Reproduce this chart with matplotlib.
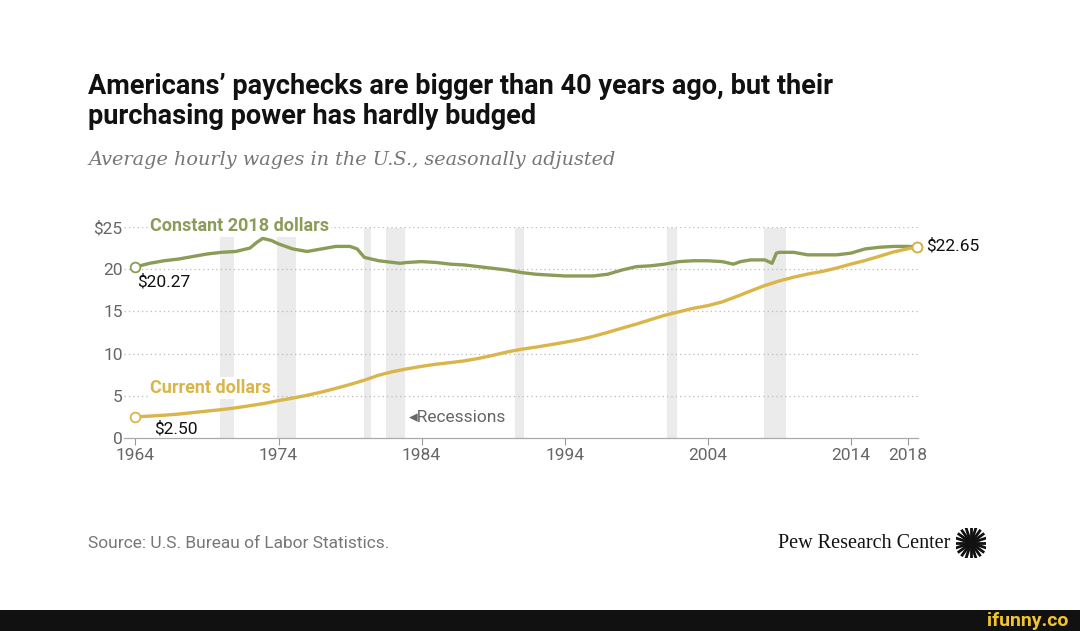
import numpy as np
import matplotlib.pyplot as plt
from matplotlib.patches import Rectangle

# 데이터
years_cur = [1964, 1965, 1966, 1967, 1968, 1969, 1970, 1971, 1972, 1973, 1974, 1975,
             1976, 1977, 1978, 1979, 1980, 1981, 1982, 1983, 1984, 1985, 1986, 1987,
             1988, 1989, 1990, 1991, 1992, 1993, 1994, 1995, 1996, 1997, 1998, 1999,
             2000, 2001, 2002, 2003, 2004, 2005, 2006, 2007, 2008, 2009, 2010, 2011,
             2012, 2013, 2014, 2015, 2016, 2017, 2018.6]
wage_cur = [2.50, 2.60, 2.70, 2.83, 3.01, 3.19, 3.36, 3.57, 3.83, 4.09, 4.43, 4.73,
            5.06, 5.44, 5.88, 6.34, 6.85, 7.44, 7.87, 8.20, 8.49, 8.74, 8.93, 9.14,
            9.44, 9.80, 10.20, 10.52, 10.77, 11.05, 11.34, 11.65, 12.04, 12.51, 13.01, 13.49,
            14.02, 14.54, 14.96, 15.37, 15.68, 16.12, 16.75, 17.42, 18.07, 18.61, 19.05, 19.43,
            19.73, 20.13, 20.60, 21.03, 21.53, 22.05, 22.65]

years_const = [1964, 1965, 1966, 1967, 1968, 1969, 1970, 1971, 1972, 1972.5, 1972.9, 1973.5,
               1974, 1975, 1976, 1977, 1978, 1979, 1979.5, 1980, 1981, 1982, 1982.5, 1983,
               1984, 1985, 1986, 1987, 1988, 1989, 1990, 1991, 1992, 1993, 1994, 1995,
               1996, 1997, 1998, 1999, 2000, 2001, 2002, 2003, 2004, 2005, 2005.8, 2006.3,
               2007, 2008, 2008.5, 2008.8, 2009, 2010, 2011, 2012, 2013, 2014, 2015, 2016,
               2017, 2018, 2018.6]
wage_const = [20.27, 20.7, 21.0, 21.2, 21.5, 21.8, 22.0, 22.1, 22.5, 23.2, 23.65, 23.4,
              23.0, 22.4, 22.1, 22.4, 22.7, 22.7, 22.4, 21.4, 21.0, 20.8, 20.7, 20.8,
              20.9, 20.8, 20.6, 20.5, 20.3, 20.1, 19.9, 19.6, 19.4, 19.3, 19.2, 19.2,
              19.2, 19.4, 19.9, 20.3, 20.4, 20.6, 20.9, 21.0, 21.0, 20.9, 20.6, 20.9,
              21.1, 21.1, 20.7, 21.9, 22.0, 22.0, 21.7, 21.7, 21.7, 21.9, 22.4, 22.6,
              22.7, 22.7, 22.65]

recessions = [(1969.92, 1970.87), (1973.9, 1975.2), (1980.0, 1980.5), (1981.5, 1982.85),
              (1990.5, 1991.17), (2001.17, 2001.85), (2007.92, 2009.45)]

xticks = [1964, 1974, 1984, 1994, 2004, 2014, 2018]
yticks = [0, 5, 10, 15, 20, 25]
ytick_labels = ['0', '5', '10', '15', '20', '$25']

green = '#8b9c58'
gold = '#d9b54a'
gray = '#666666'
sans = ['Roboto', 'DejaVu Sans']

fig = plt.figure(figsize=(10.8, 6.31), dpi=100)
ax = fig.add_axes([124 / 1080, 1 - 438 / 631, (918 - 124) / 1080, (438 - 227) / 631])

# 경기침체 구간
for a, b in recessions:
    ax.axvspan(a, b, ymin=0, ymax=0.995, color='#ebebeb', lw=0, zorder=0)

# 격자선
for y in yticks[1:]:
    ax.axhline(y, color='#bbbbbb', lw=0.9, ls=(0, (1, 2.5)), zorder=1)

ax.plot(years_const, wage_const, color=green, lw=2.4, zorder=3, solid_capstyle='round')
ax.plot(years_cur, wage_cur, color=gold, lw=2.4, zorder=3, solid_capstyle='round')

# 끝점 표시
for xs, ys, c in [(years_const, wage_const, green), (years_cur, wage_cur, gold)]:
    ax.plot([xs[0], xs[-1]], [ys[0], ys[-1]], 'o', ms=7, mfc='white', mec=c, mew=1.3,
            zorder=4, clip_on=False)

ax.set_xlim(1963.2, 2018.7)
ax.set_ylim(0, 25)
ax.set_xticks(xticks)
ax.set_xticklabels([str(t) for t in xticks], family=sans)
ax.set_yticks(yticks)
ax.set_yticklabels(ytick_labels, family=sans)
ax.tick_params(axis='y', length=0, pad=1, labelsize=12.5, labelcolor=gray)
ax.tick_params(axis='x', length=5, width=0.8, color='#999999', pad=2, labelsize=12.5,
               labelcolor=gray)
for s in ['top', 'right', 'left']:
    ax.spines[s].set_visible(False)
ax.spines['bottom'].set_color('#aaaaaa')
ax.spines['bottom'].set_linewidth(0.9)

# 라벨
ax.text(1965.0, 25.1, 'Constant 2018 dollars', color=green, fontsize=13, fontweight='bold',
        family=sans, va='center', ha='left', zorder=5,
        bbox=dict(facecolor='white', edgecolor='none', pad=1.5))
ax.text(1965.0, 5.9, 'Current dollars', color=gold, fontsize=13, fontweight='bold',
        family=sans, va='center', ha='left', zorder=5,
        bbox=dict(facecolor='white', edgecolor='none', pad=1.5))
ax.text(1964.1, 18.5, '$20.27', fontsize=12.5, family=sans, va='center', ha='left',
        color='#111111', zorder=5)
ax.text(1965.3, 1.1, '$2.50', fontsize=12.5, family=sans, va='center', ha='left',
        color='#111111', zorder=5)
ax.text(2019.3, 22.8, '$22.65', fontsize=12.5, family=sans, va='center', ha='left',
        color='#111111', clip_on=False)
ax.text(1983.1, 2.4, '\u25c2Recessions', fontsize=12.5, family=sans, va='center', ha='left',
        color=gray)

# 제목
fig.text(88 / 1080, 1 - 86 / 631, 'Americans\u2019 paychecks are bigger than 40 years ago, but their',
         fontsize=19.5, fontweight='bold', family=sans,
         va='center', ha='left', color='#111111')
fig.text(88 / 1080, 1 - 117 / 631, 'purchasing power has hardly budged',
         fontsize=19.5, fontweight='bold', family=sans,
         va='center', ha='left', color='#111111')
fig.text(88 / 1080, 1 - 160 / 631, 'Average hourly wages in the U.S., seasonally adjusted',
         fontsize=13.9, style='italic', family=['DejaVu Serif'],
         va='center', ha='left', color='#777777')
fig.text(88 / 1080, 1 - 543 / 631, 'Source: U.S. Bureau of Labor Statistics.',
         fontsize=12.5, family=sans,
         va='center', ha='left', color='#777777')
fig.text(950 / 1080, 1 - 543 / 631, 'Pew Research Center',
         fontsize=14.5, family=['Liberation Serif', 'DejaVu Serif'],
         va='center', ha='right', color='#111111')

# 로고
lax = fig.add_axes([956 / 1080, 1 - 558 / 631, 30 / 1080, 30 / 631])
lax.set_xlim(-1, 1)
lax.set_ylim(-1, 1)
lax.set_aspect('equal')
lax.axis('off')
for ang in np.linspace(0, np.pi, 10, endpoint=False):
    lax.plot([-np.cos(ang), np.cos(ang)], [-np.sin(ang), np.sin(ang)], color='#111111', lw=2.0)
lax.plot(0, 0, 'o', color='#111111', ms=5)

# 하단 바
fig.patches.append(Rectangle((0, 0), 1, 21 / 631, transform=fig.transFigure,
                             facecolor='#111111', edgecolor='none'))
fig.text(1068 / 1080, 10 / 631, 'ifunny.co', fontsize=14, fontweight='bold', family=sans,
         color='#f4c430', ha='right', va='center')

fig.savefig('out.png', dpi=100)
